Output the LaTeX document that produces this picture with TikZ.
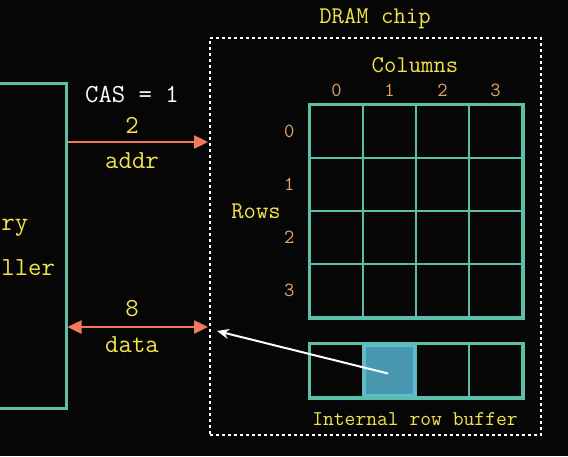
\documentclass[tikz,border=0pt]{standalone}
\usepackage{fontspec}
\usepackage{xcolor}
\usepackage{tikz}
\usetikzlibrary{arrows.meta,positioning}

\definecolor{bg}{HTML}{060606}
\definecolor{cellline}{HTML}{5BBFA8}
\definecolor{lbl}{HTML}{F2E34A}
\definecolor{idx}{HTML}{E8A466}
\definecolor{bus}{HTML}{F07A5A}
\definecolor{hit}{HTML}{4A98B0}
\definecolor{hitline}{HTML}{5EBBD6}

\begin{document}
\begin{tikzpicture}[x=1pt, y=-1pt,
  big/.style={font=\fontsize{26}{30}\selectfont\ttfamily},
  mid/.style={font=\fontsize{24}{28}\selectfont\ttfamily, text=lbl},
  small/.style={font=\fontsize{20}{24}\selectfont\ttfamily},
  gridcell/.style={draw=cellline, line width=2pt, minimum size=53pt, inner sep=0pt, anchor=north west},
  busline/.style={draw=bus, line width=2.5pt, >={Triangle[length=14pt,width=13pt]}}]
\fill[bg] (0,0) rectangle (568,456);
\useasboundingbox (0,0) rectangle (568,456);

% memory controller (cut off at the left)
\node[draw=cellline, line width=3pt, minimum width=156pt, minimum height=325pt, big, text=lbl, align=center] (ctrl) at (-12,245.5) {Memory\\[15pt]controller};

% DRAM chip
\node[draw=white, line width=2pt, dash pattern=on 3pt off 3pt, minimum width=331pt, minimum height=397pt] (chip) at (375.5,236.5) {};
\node[mid] (chiplabel) at (375,19) {DRAM chip};

% cell array
\foreach \r in {0,...,3}
  \foreach \c in {0,...,3}
    \node[gridcell] (c\r\c) at (309+53*\c,104+53*\r) {};
\draw[cellline, line width=3pt] (c00.north west) rectangle (c33.south east);
\foreach \i in {0,...,3} {
  \node[small, text=idx, left=11pt of c\i0] (row\i) {\i};
  \node[small, text=idx, above=4pt of c0\i] (col\i) {\i};
}
\node[mid] (cols) at (415,65) {Columns};
\node[mid] (rows) at (256,211) {Rows};

% row buffer
\foreach \c in {0,...,3}
  \node[gridcell] (b\c) at (309+53*\c,343) {};
\node[fill=hit, draw=hitline, line width=2.5pt, minimum size=50pt, inner sep=0pt] (hitcell) at (b1.center) {};
\draw[cellline, line width=3pt] (b0.north west) rectangle (b3.south east);
\node[font=\fontsize{21}{24}\selectfont\ttfamily, text=lbl] (buflabel) at (415,419) {Internal row buffer};

% buses
\coordinate (addrin) at (208,142);
\coordinate (datain) at (208,327);
\draw[busline, ->] (ctrl.east |- addrin) -- (addrin);
\draw[busline, <->] (ctrl.east |- datain) -- (datain);
\node[big, text=white] (cas) at (132,95) {CAS = 1};
\node[big, text=lbl] (addrw) at (132,125) {2};
\node[big, text=lbl] (addr) at (132,161) {addr};
\node[big, text=lbl] (dataw) at (132,309) {8};
\node[big, text=lbl] (data) at (132,345) {data};

% column read out
\coordinate (dataout) at (217,331);
\draw[white, line width=2pt, -{Stealth[length=12pt,width=10pt]}] ([shift={(-1.5pt,-3pt)}]hitcell.center) -- (dataout);
\end{tikzpicture}
\end{document}
